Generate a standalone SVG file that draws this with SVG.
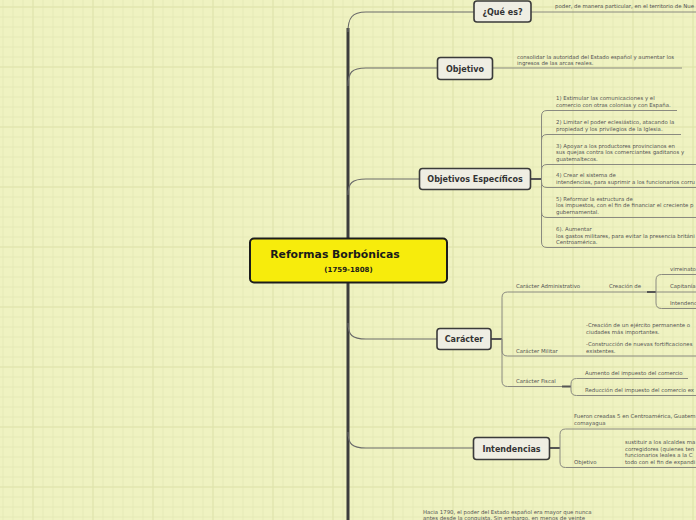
<svg xmlns="http://www.w3.org/2000/svg" width="696" height="520" viewBox="0 0 696 520">
<defs>
<pattern id="minor" x="2.5" y="6.5" width="10" height="10" patternUnits="userSpaceOnUse">
<path d="M0,0.5H10M0.5,0V10" fill="none" stroke="#e5e9b6" stroke-width="1"/>
</pattern>
<pattern id="major" x="32.5" y="6.5" width="60" height="60" patternUnits="userSpaceOnUse">
<path d="M0,0.5H60M0.5,0V60" fill="none" stroke="#dfe3ac" stroke-width="1"/>
</pattern>
</defs>
<style>
.box{fill:#efeee3;stroke:#3a3a3a;stroke-width:1.6}
.lbl{font-family:"DejaVu Sans",sans-serif;font-weight:bold;font-size:8px;fill:#333;text-anchor:middle}
.t{font-family:"DejaVu Sans",sans-serif;font-size:5.4px;fill:#555}
.br{fill:none;stroke:#6a6a6a;stroke-width:1.1}
.ln{fill:none;stroke:#8a8a80;stroke-width:1}
.thk{fill:none;stroke:#555;stroke-width:2}
.trunk{fill:none;stroke:#3c3c3c;stroke-width:3}
</style>
<rect width="696" height="520" fill="#eff2c1"/>
<rect width="696" height="520" fill="url(#minor)"/>
<rect width="696" height="520" fill="url(#major)"/>

<g id="connectors">
<path class="trunk" d="M348,28V520"/>
<path class="br" d="M348,32C348,18 352,12 366,12H474"/>
<path class="br" d="M348,86C348,72 352,68 366,68H437"/>
<path class="br" d="M348,195C348,183 352,179 366,179H419"/>
<path class="br" d="M348,323C348,335 352,339 366,339H437"/>
<path class="br" d="M348,432C348,444 352,448 366,448H473"/>
<path class="ln" d="M531,12H696"/>
<path class="ln" d="M493,68H682"/>
<path class="thk" d="M531,179H541.5"/>
<path class="ln" d="M541.5,179V116Q541.5,110.5 547,110.5H677"/>
<path class="ln" d="M541.5,179V140Q541.5,134.5 547,134.5H681"/>
<path class="ln" d="M541.5,179V170Q541.5,164.5 547,164.5H696"/>
<path class="ln" d="M541.5,179V182Q541.5,187.5 547,187.5H696"/>
<path class="ln" d="M541.5,179V212Q541.5,217.5 547,217.5H696"/>
<path class="ln" d="M541.5,179V242Q541.5,247.5 547,247.5H696"/>
<path class="thk" d="M491,339H502"/>
<path class="ln" d="M502,339V297.5Q502,292 507.5,292H647"/>
<path class="ln" d="M502,339V350.5Q502,356 507.5,356H696"/>
<path class="ln" d="M502,339V381Q502,386.5 507.5,386.5H562"/>
<path class="thk" d="M647,292H656"/>
<path class="ln" d="M656,292V280Q656,274.5 661.5,274.5H696"/>
<path class="ln" d="M656,292H696"/>
<path class="ln" d="M656,292V303Q656,308.5 661.5,308.5H696"/>
<path class="thk" d="M562,386.5H571"/>
<path class="ln" d="M571,386.5V384Q571,378.5 576.5,378.5H688"/>
<path class="ln" d="M571,386.5V390Q571,395.5 576.5,395.5H696"/>
<path class="thk" d="M549,448H560"/>
<path class="ln" d="M560,448V434.5Q560,429 565.5,429H696"/>
<path class="ln" d="M560,448V462Q560,467.5 565.5,467.5H696"/>
</g>

<g id="center">
<rect x="250" y="238.5" width="197" height="44" rx="4" fill="#f7ec0c" stroke="#1c1c1c" stroke-width="2"/>
<text x="335" y="258" font-family="DejaVu Sans, sans-serif" font-weight="bold" font-size="10.8" fill="#1a1a1a" text-anchor="middle">Reformas Borbónicas</text>
<text x="348.5" y="272" font-family="DejaVu Sans, sans-serif" font-weight="bold" font-size="7" fill="#1a1a1a" text-anchor="middle">(1759-1808)</text>
</g>

<g id="que-es">
<rect class="box" x="474" y="1" width="57" height="21" rx="3"/>
<text class="lbl" x="502.5" y="14.5">¿Qué es?</text>
<text class="t" x="555" y="8">poder, de manera particular, en el territorio de Nue</text>
</g>

<g id="objetivo">
<rect class="box" x="437.5" y="57.5" width="55" height="22" rx="3"/>
<text class="lbl" x="465" y="71.5">Objetivo</text>
<text class="t" x="517" y="58.5">consolidar la autoridad del Estado español y aumentar los</text>
<text class="t" x="517" y="65">ingresos de las arcas reales.</text>
</g>

<g id="objetivos-especificos">
<rect class="box" x="419.5" y="168.5" width="111" height="21" rx="3"/>
<text class="lbl" x="475" y="182">Objetivos Específicos</text>
<text class="t" x="556" y="100">1) Estimular las comunicaciones y el</text>
<text class="t" x="556" y="106.5">comercio con otras colonias y con España.</text>
<text class="t" x="556" y="124">2) Limitar el poder eclesiástico, atacando la</text>
<text class="t" x="556" y="130.5">propiedad y los privilegios de la Iglesia.</text>
<text class="t" x="556" y="147.5">3) Apoyar a los productores provincianos en</text>
<text class="t" x="556" y="154">sus quejas contra los comerciantes gaditanos y</text>
<text class="t" x="556" y="160.5">guatemaltecos.</text>
<text class="t" x="556" y="177">4) Crear el sistema de</text>
<text class="t" x="556" y="183.5">intendencias, para suprimir a los funcionarios corru</text>
<text class="t" x="556" y="200.5">5) Reformar la estructura de</text>
<text class="t" x="556" y="207">los impuestos, con el fin de financiar el creciente p</text>
<text class="t" x="556" y="213.5">gubernamental.</text>
<text class="t" x="556" y="231">6). Aumentar</text>
<text class="t" x="556" y="237.5">los gastos militares, para evitar la presencia británi</text>
<text class="t" x="556" y="244">Centroamérica.</text>
</g>

<g id="caracter">
<rect class="box" x="437" y="328.5" width="54" height="21" rx="3"/>
<text class="lbl" x="464" y="342">Carácter</text>
<text class="t" x="516" y="288">Carácter Administrativo</text>
<text class="t" x="609" y="288">Creación de</text>
<text class="t" x="670" y="271">virreinato</text>
<text class="t" x="670" y="288">Capitanía</text>
<text class="t" x="670" y="305">Intendenc</text>
<text class="t" x="516" y="353">Carácter Militar</text>
<text class="t" x="586" y="327">-Creación de un ejército permanente o</text>
<text class="t" x="586" y="333.5">ciudades más importantes.</text>
<text class="t" x="586" y="346">-Construcción de nuevas fortificaciones</text>
<text class="t" x="586" y="352.5">existentes.</text>
<text class="t" x="516" y="383">Carácter Fiscal</text>
<text class="t" x="585" y="375">Aumento del impuesto del comercio</text>
<text class="t" x="585" y="392">Reducción del impuesto del comercio ex</text>
</g>

<g id="intendencias">
<rect class="box" x="473.5" y="437.5" width="76" height="22" rx="3"/>
<text class="lbl" x="511.5" y="451.5">Intendencias</text>
<text class="t" x="574" y="418">Fueron creadas 5 en Centroamérica, Guatem</text>
<text class="t" x="574" y="424.5">comayagua</text>
<text class="t" x="574" y="464">Objetivo</text>
<text class="t" x="625" y="444">sustituir a los alcaldes ma</text>
<text class="t" x="625" y="450.5">corregidores (quienes ten</text>
<text class="t" x="625" y="457">funcionarios leales a la C</text>
<text class="t" x="625" y="463.5">todo con el fin de expandi</text>
</g>

<g id="hacia-1790">
<text class="t" x="423" y="514">Hacia 1790, el poder del Estado español era mayor que nunca</text>
<text class="t" x="423" y="519.5">antes desde la conquista. Sin embargo, en menos de veinte</text>
</g>
</svg>
